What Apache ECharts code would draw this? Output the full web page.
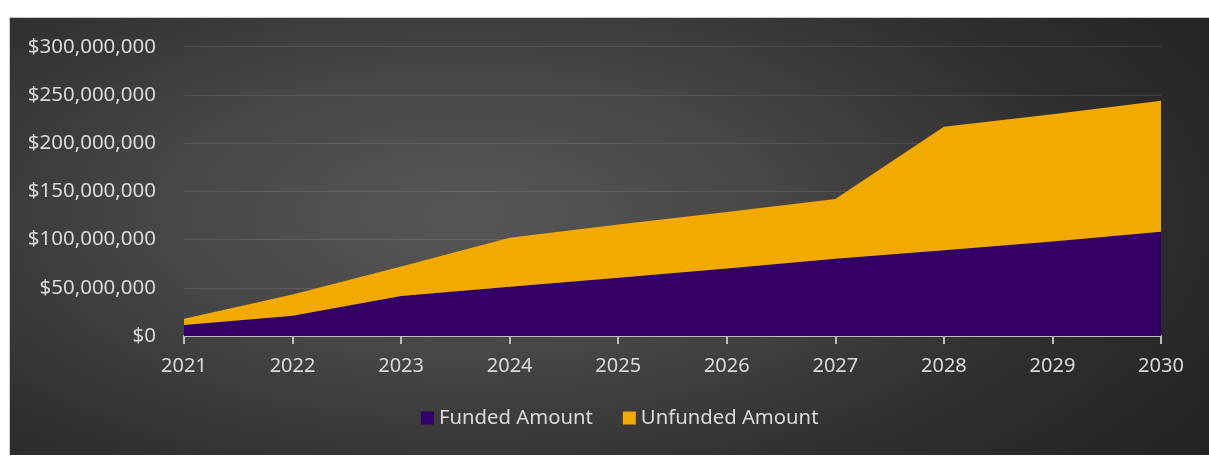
<!DOCTYPE html>
<html>
<head>
<meta charset="utf-8">
<script src="https://cdn.jsdelivr.net/npm/echarts@6/dist/echarts.min.js"></script>
<style>
html,body{margin:0;padding:0;background:#fff;}
#bg{position:absolute;left:9px;top:17px;width:1200px;height:438px;
 background:radial-gradient(ellipse 75% 95% at 38% 45%, #575757 0%, #464646 35%, #2f2f2f 70%, #232323 100%);
 border-top:1px solid #c8c8c8;border-left:1px solid #d0d0d0;box-sizing:border-box;}
#chart{position:absolute;left:0;top:0;width:1209px;height:457px;}
</style>
</head>
<body>
<div id="bg"></div>
<div id="chart"></div>
<script>
const years = ['2021','2022','2023','2024','2025','2026','2027','2028','2029','2030'];
const funded = [11500000, 21000000, 41500000, 51000000, 60500000, 70000000, 80000000, 89000000, 98000000, 108000000];
const unfunded = [6500000, 22000000, 30500000, 51000000, 55000000, 58500000, 62000000, 128000000, 132000000, 136000000];
const seriesNames = ['Funded Amount', 'Unfunded Amount'];
const colors = ['#320066', '#F2A900'];

const chart = echarts.init(document.getElementById('chart'), null, {renderer:'canvas'});
const fmt = v => '$' + v.toLocaleString('en-US');
chart.setOption({
  backgroundColor: 'transparent',
  animation: false,
  grid: {left: 184, right: 48, top: 46.7, bottom: 121},
  legend: {
    data: seriesNames,
    bottom: 24,
    left: 416,
    icon: 'rect',
    itemWidth: 13, itemHeight: 13, itemGap: 30,
    textStyle: {color: '#dadada', fontSize: 20.3, fontFamily: 'Noto Sans'},
    formatter: n => n
  },
  xAxis: {
    type: 'category',
    data: years,
    boundaryGap: false,
    axisLine: {lineStyle: {color: '#bdbdbd', width: 2}},
    axisTick: {show: true, length: 8, lineStyle: {color: '#bdbdbd', width: 2}},
    axisLabel: {color: '#dadada', fontSize: 20, fontFamily: 'Noto Sans', margin: 20},
    splitLine: {show: false}
  },
  yAxis: {
    type: 'value',
    min: 0, max: 300000000, interval: 50000000,
    axisLine: {show: false},
    axisTick: {show: false},
    axisLabel: {color: '#dadada', fontSize: 20.5, fontFamily: 'Noto Sans', margin: 28, formatter: fmt},
    splitLine: {lineStyle: {color: 'rgba(255,255,255,0.11)', width: 1}}
  },
  series: [
    {name: seriesNames[0], type: 'line', stack: 'total', data: funded, symbol: 'none',
     lineStyle: {width: 0}, areaStyle: {color: colors[0], opacity: 1}, itemStyle: {color: colors[0]}},
    {name: seriesNames[1], type: 'line', stack: 'total', data: unfunded, symbol: 'none',
     lineStyle: {width: 0}, areaStyle: {color: colors[1], opacity: 1}, itemStyle: {color: colors[1]}}
  ]
});
</script>
</body>
</html>
